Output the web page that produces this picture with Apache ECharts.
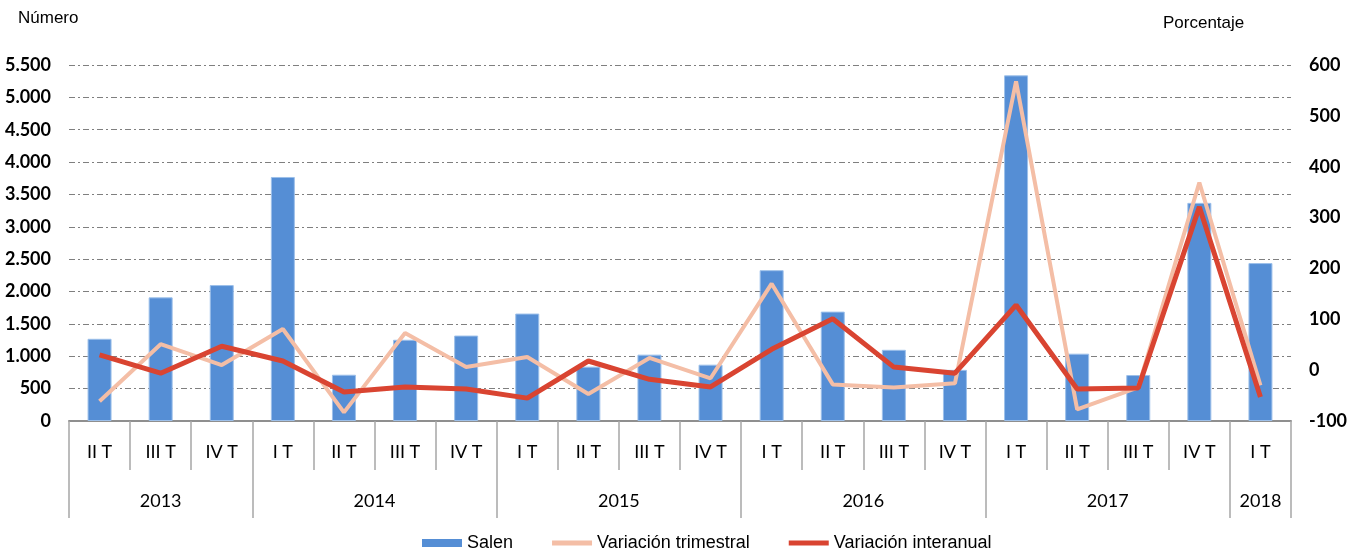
<!DOCTYPE html>
<html>
<head>
<meta charset="utf-8">
<script src="https://cdn.jsdelivr.net/npm/echarts@6/dist/echarts.min.js"></script>
<style>
html,body{margin:0;padding:0;background:#fff;}
#chart{width:1352px;height:553px;}
</style>
</head>
<body>
<div id="chart"></div>
<script>
const quarters = ['II T','III T','IV T','I T','II T','III T','IV T','I T','II T','III T','IV T','I T','II T','III T','IV T','I T','II T','III T','IV T','I T'];
const years = ['2013','2014','2015','2016','2017','2018'];
const quartersPerYear = [3,4,4,4,4,1];
const salen = [1270,1910,2100,3770,715,1255,1320,1660,840,1025,870,2330,1690,1100,790,5340,1040,710,3370,2440];
const variacionTrimestral = [-61,51,10,81,-83,73,6,26,-47,24,-16,170,-28,-34,-26,568,-77,-34,369,-30];
const variacionInteranual = [30,-6,47,18,-43,-33,-37,-55,18,-18,-33,41,101,6,-6,128,-37,-35,321,-53];

// year group boundaries and centres on a 0..N scale
const yearBounds = [0];
quartersPerYear.forEach(n => yearBounds.push(yearBounds[yearBounds.length-1] + n));
const yearCenters = years.map((y,i) => (yearBounds[i] + yearBounds[i+1]) / 2);

const labelFont = 'Lato, "Noto Sans", sans-serif';
const textFont = '"Liberation Sans", Arial, sans-serif';
const axisGray = '#8f8f8f';
const lineIcon = 'path://M0,0 L40,0 L40,5 L0,5 Z';

const chart = echarts.init(document.getElementById('chart'), null, {renderer:'canvas'});
chart.setOption({
  animation: false,
  title: [
    {text:'Número', left:13, top:5, textStyle:{fontFamily:textFont, fontSize:17, fontWeight:'normal', color:'#000'}},
    {text:'Porcentaje', left:1158, top:10, textStyle:{fontFamily:textFont, fontSize:17, fontWeight:'normal', color:'#000'}}
  ],
  legend: {
    left: 417, top: 529,
    itemWidth: 40, itemHeight: 8, itemGap: 39,
    textStyle: {fontFamily:textFont, fontSize:18, color:'#000'},
    data: [
      {name:'Salen', icon:'rect', itemStyle:{borderWidth:0}},
      {name:'Variación trimestral', icon: lineIcon, lineStyle:{width:5}},
      {name:'Variación interanual', icon: lineIcon, lineStyle:{width:5}}
    ]
  },
  grid: {left:69, right:61, top:65, bottom:132, containLabel:false},
  xAxis: [
    {
      type:'category', data: quarters, position:'bottom', boundaryGap:true,
      axisLine:{show:true, onZero:false, lineStyle:{color:axisGray, width:2}},
      axisTick:{show:true, inside:false, interval:0, length:49, lineStyle:{color:'#a6a6a6', width:1.5}},
      axisLabel:{interval:0, margin:22, fontFamily:labelFont, fontSize:18, color:'#000'},
      splitLine:{show:false}
    },
    {
      type:'value', min:0, max:quarters.length, position:'bottom',
      axisLine:{show:false, onZero:false},
      axisTick:{show:true, inside:false, length:97, customValues: yearBounds, lineStyle:{color:'#a6a6a6', width:1.5}},
      axisLabel:{show:true, margin:71, customValues: yearCenters, fontFamily:labelFont, fontSize:18, color:'#000',
        formatter: v => { const i = yearCenters.findIndex(c => Math.abs(c - v) < 1e-6); return i >= 0 ? years[i] : ''; }},
      splitLine:{show:false}
    }
  ],
  yAxis: [
    {
      type:'value', min:0, max:5500, interval:500, position:'left',
      axisLine:{show:false}, axisTick:{show:false},
      axisLabel:{margin:18, fontFamily:labelFont, fontSize:18, fontWeight:'bold', color:'#000',
        formatter: v => v.toLocaleString('de-DE')},
      splitLine:{show:true, lineStyle:{color:'#7f7f7f', width:1, type:[6,3,2,3]}}
    },
    {
      type:'value', min:-100, max:600, interval:100, position:'right',
      axisLine:{show:false}, axisTick:{show:false},
      axisLabel:{margin:18, fontFamily:labelFont, fontSize:18, fontWeight:'bold', color:'#000'},
      splitLine:{show:false}
    }
  ],
  series: [
    {
      name:'Salen', type:'bar', xAxisIndex:0, yAxisIndex:0, data: salen,
      barWidth: 24,
      itemStyle:{color:'#558ED5', borderColor:'#9DC0EA', borderWidth:1}
    },
    {
      name:'Variación trimestral', type:'line', xAxisIndex:0, yAxisIndex:1, data: variacionTrimestral,
      symbol:'none', lineStyle:{color:'#F4BEA6', width:4}, itemStyle:{color:'#F4BEA6'}
    },
    {
      name:'Variación interanual', type:'line', xAxisIndex:0, yAxisIndex:1, data: variacionInteranual,
      symbol:'none', lineStyle:{color:'#D94431', width:5}, itemStyle:{color:'#D94431'}
    }
  ]
});
</script>
</body>
</html>
